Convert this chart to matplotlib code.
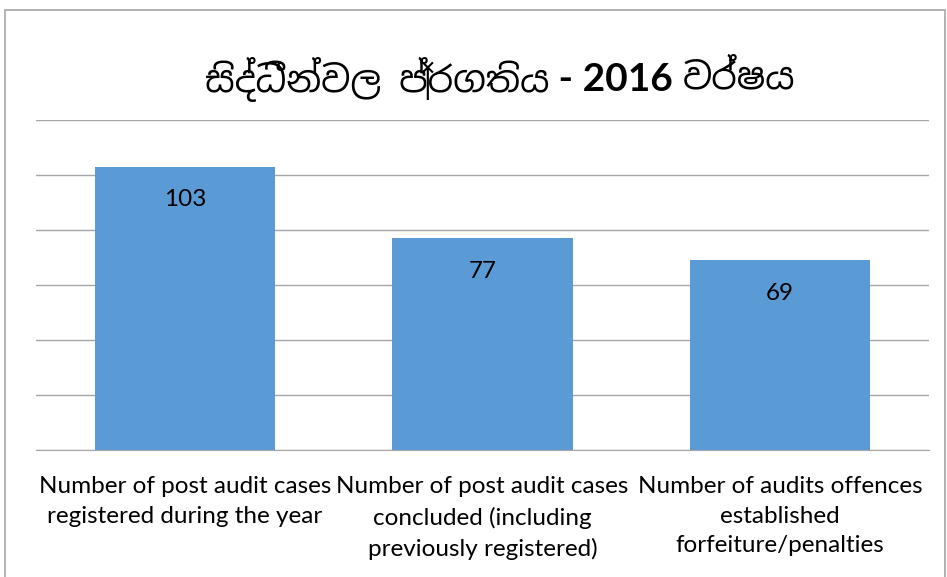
import matplotlib
matplotlib.use("Agg")
import matplotlib.pyplot as plt
from matplotlib.patches import Rectangle

categories = [
    "Number of post audit cases\nregistered during the year",
    "Number of post audit cases\nconcluded (including\npreviously registered)",
    "Number of audits offences\nestablished\nforfeiture/penalties",
]
values = [103, 77, 69]
title_parts = ["සිද්ධීන්වල ප්‍රගතිය", " - 2016 ", "වර්ෂය"]

sinhala = ["Noto Sans Sinhala", "Noto Sans", "DejaVu Sans"]

fig = plt.figure(figsize=(9.47, 5.77), dpi=100)
ax = fig.add_axes([0.038, 0.220, 0.943, 0.572])
x = list(range(len(values)))
ax.bar(x, values, width=0.605, color="#5b9bd5", zorder=2)
ax.set_xlim(-0.5, 2.5)
ax.set_ylim(0, 120)
ax.set_yticks(range(0, 121, 20))
ax.yaxis.grid(True, color="#a6a6a6", linewidth=1.0, zorder=0)
ax.tick_params(axis="y", left=False, labelleft=False)
ax.tick_params(axis="x", length=0, pad=19)
ax.set_xticks(x)
ax.set_xticklabels(categories, fontsize=17.5, family="Lato", linespacing=1.5)
for s in ["left", "right", "top"]:
    ax.spines[s].set_visible(False)
ax.spines["bottom"].set_color("#a6a6a6")
for xi, v in zip(x, values):
    ax.text(xi, v - 12, str(v), ha="center", va="center", fontsize=17.5, family="Lato")

# title built from pieces so that the number part can be bold
renderer = fig.canvas.get_renderer()
styles = [dict(family=sinhala, fontsize=26),
          dict(family="Lato", fontsize=28, fontweight="bold"),
          dict(family=sinhala, fontsize=26)]
texts = []
for part, st in zip(title_parts, styles):
    t = fig.text(0, 0.862, part, ha="left", va="center", **st)
    texts.append(t)
widths = [t.get_window_extent(renderer).width for t in texts]
total = sum(widths)
figw = fig.get_figwidth() * fig.dpi
cx = 0.528 * figw
start = cx - total / 2
for t, w in zip(texts, widths):
    t.set_x(start / figw)
    start += w

fig.patches.append(Rectangle((0.005, -0.01), 0.993, 0.993, transform=fig.transFigure,
                             fill=False, edgecolor="#a6a6a6", linewidth=1.2))
fig.savefig("out.png", dpi=100)
